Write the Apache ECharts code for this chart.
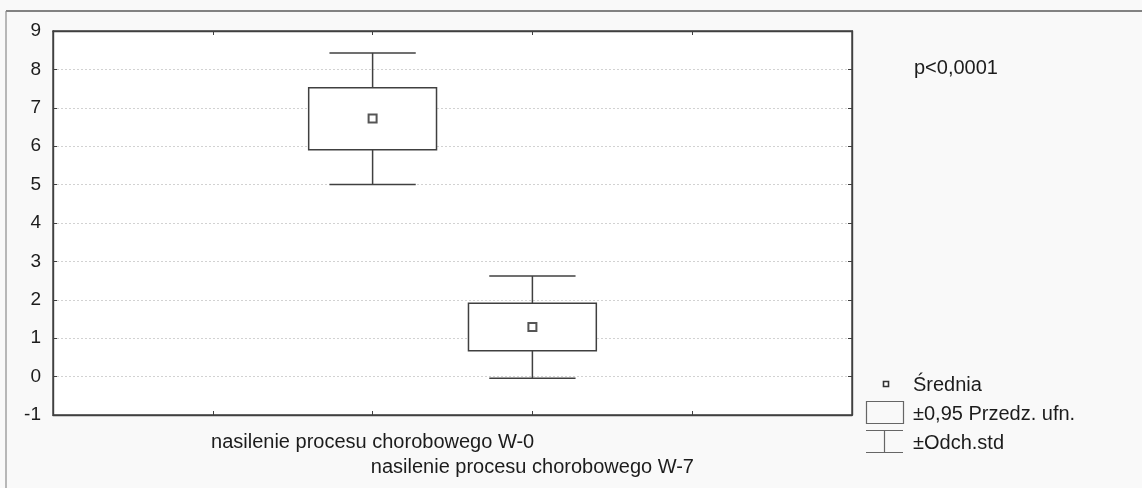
<!DOCTYPE html>
<html>
<head>
<meta charset="utf-8">
<title>nasilenie procesu chorobowego</title>
<script src="https://cdn.jsdelivr.net/npm/echarts@6/dist/echarts.min.js"></script>
<style>
  html, body { margin: 0; padding: 0; background: #f9f9f9; }
  #chart { width: 1142px; height: 488px; }
</style>
</head>
<body>
<div id="chart"></div>
<script>
// Groups and their positions along the horizontal axis
const categories = ['nasilenie procesu chorobowego W-0', 'nasilenie procesu chorobowego W-7'];
const categoryPositions = [2, 3];

// Mean, ±0.95 confidence interval and ±standard deviation for each group
const means = [6.72, 1.29];
const ciLower = [5.91, 0.67];
const ciUpper = [7.52, 1.91];
const sdLower = [5.0, -0.04];
const sdUpper = [8.43, 2.62];

// Y axis ticks
const yTicks = [-1, 0, 1, 2, 3, 4, 5, 6, 7, 8, 9];

const pValueText = 'p<0,0001';
const legendLabels = ['Średnia', '±0,95 Przedz. ufn.', '±Odch.std'];

const FONT = '"Liberation Sans", Arial, sans-serif';
const INK = '#1c1c1c';
const LINE = '#404040';
const BOX_HALF = 0.4;      // half width of the confidence box, in axis units
const CAP_HALF = 0.27;     // half width of the whisker caps, in axis units

const whiskerData = categoryPositions.map((x, i) => [x, sdLower[i], sdUpper[i]]);
const boxData = categoryPositions.map((x, i) => [x, ciLower[i], ciUpper[i]]);
const meanData = categoryPositions.map((x, i) => [x, means[i]]);

const chart = echarts.init(document.getElementById('chart'), null, { renderer: 'canvas' });

const baseXAxis = {
  type: 'value',
  min: 0,
  max: 5,
  interval: 1,
  axisLine: { show: true, onZero: false, lineStyle: { color: LINE, width: 1.4 } },
  axisTick: { show: true, inside: true, length: 4, lineStyle: { color: LINE } },
  splitLine: { show: false }
};

const baseYAxis = {
  type: 'value',
  min: yTicks[0],
  max: yTicks[yTicks.length - 1],
  interval: 1,
  axisLine: { show: true, onZero: false, lineStyle: { color: LINE, width: 1.4 } },
  axisTick: { show: true, inside: true, length: 4, lineStyle: { color: LINE } }
};

chart.setOption({
  backgroundColor: '#f9f9f9',
  animation: false,
  grid: {
    left: 53, top: 31, right: 290, bottom: 73,
    show: true, backgroundColor: '#ffffff', borderColor: LINE, borderWidth: 1.4
  },
  xAxis: [
    Object.assign({}, baseXAxis, {
      position: 'bottom',
      axisLabel: {
        show: true,
        margin: 15,
        fontFamily: FONT,
        fontSize: 20,
        color: INK,
        lineHeight: 25,
        formatter: function (v) {
          const idx = categoryPositions.indexOf(v);
          if (idx < 0) return '';
          // labels alternate between two rows
          return idx % 2 === 0 ? categories[idx] : '\n' + categories[idx];
        }
      }
    }),
    Object.assign({}, baseXAxis, { position: 'top', axisLabel: { show: false } })
  ],
  yAxis: [
    Object.assign({}, baseYAxis, {
      position: 'left',
      axisLabel: { show: true, margin: 12, fontFamily: FONT, fontSize: 19, color: INK },
      splitLine: { show: true, lineStyle: { color: '#d2d2d2', type: [2, 2], width: 1 } }
    }),
    Object.assign({}, baseYAxis, {
      position: 'right',
      axisLabel: { show: false },
      splitLine: { show: false }
    })
  ],
  series: [
    {
      // ±standard deviation whiskers
      type: 'custom',
      name: legendLabels[2],
      xAxisIndex: 0,
      yAxisIndex: 0,
      data: whiskerData,
      z: 2,
      renderItem: function (params, api) {
        const x = api.value(0);
        const lo = api.coord([x, api.value(1)]);
        const hi = api.coord([x, api.value(2)]);
        const capL = api.coord([x - CAP_HALF, api.value(1)])[0];
        const capR = api.coord([x + CAP_HALF, api.value(1)])[0];
        const style = { stroke: LINE, lineWidth: 1.5, fill: null };
        return {
          type: 'group',
          children: [
            { type: 'line', shape: { x1: lo[0], y1: lo[1], x2: hi[0], y2: hi[1] }, style: style },
            { type: 'line', shape: { x1: capL, y1: lo[1], x2: capR, y2: lo[1] }, style: style },
            { type: 'line', shape: { x1: capL, y1: hi[1], x2: capR, y2: hi[1] }, style: style }
          ]
        };
      }
    },
    {
      // ±0.95 confidence interval boxes
      type: 'custom',
      name: legendLabels[1],
      xAxisIndex: 0,
      yAxisIndex: 0,
      data: boxData,
      z: 3,
      renderItem: function (params, api) {
        const x = api.value(0);
        const a = api.coord([x - BOX_HALF, api.value(1)]);
        const b = api.coord([x + BOX_HALF, api.value(2)]);
        return {
          type: 'rect',
          shape: { x: a[0], y: b[1], width: b[0] - a[0], height: a[1] - b[1] },
          style: { fill: '#ffffff', stroke: LINE, lineWidth: 1.5 }
        };
      }
    },
    {
      // group means
      type: 'scatter',
      name: legendLabels[0],
      xAxisIndex: 0,
      yAxisIndex: 0,
      data: meanData,
      z: 4,
      symbol: 'rect',
      symbolSize: 8,
      itemStyle: { color: '#ffffff', borderColor: '#2a2a2a', borderWidth: 2 }
    }
  ],
  graphic: [
    // outer frame
    { type: 'line', silent: true, shape: { x1: 6, y1: 11, x2: 1142, y2: 11 }, style: { stroke: '#5a5a5a', lineWidth: 1.6 } },
    { type: 'line', silent: true, shape: { x1: 6, y1: 11, x2: 6, y2: 488 }, style: { stroke: '#8a8a8a', lineWidth: 1.2 } },
    // significance note
    { type: 'text', silent: true, x: 914, y: 68,
      style: { text: pValueText, font: '20px ' + FONT, fill: INK, verticalAlign: 'middle' } },
    // legend: mean
    { type: 'rect', silent: true, shape: { x: 883.5, y: 381.5, width: 5, height: 5 },
      style: { fill: '#ffffff', stroke: '#333', lineWidth: 1.6 } },
    { type: 'text', silent: true, x: 913, y: 385,
      style: { text: legendLabels[0], font: '20px ' + FONT, fill: INK, verticalAlign: 'middle' } },
    // legend: confidence box
    { type: 'rect', silent: true, shape: { x: 866.5, y: 401.5, width: 37, height: 22 },
      style: { fill: '#f9f9f9', stroke: '#666', lineWidth: 1.2 } },
    { type: 'text', silent: true, x: 913, y: 414,
      style: { text: legendLabels[1], font: '20px ' + FONT, fill: INK, verticalAlign: 'middle' } },
    // legend: whisker
    { type: 'line', silent: true, shape: { x1: 866, y1: 430.5, x2: 903, y2: 430.5 }, style: { stroke: '#666', lineWidth: 1.2 } },
    { type: 'line', silent: true, shape: { x1: 866, y1: 452.5, x2: 903, y2: 452.5 }, style: { stroke: '#666', lineWidth: 1.2 } },
    { type: 'line', silent: true, shape: { x1: 884.5, y1: 430.5, x2: 884.5, y2: 452.5 }, style: { stroke: '#666', lineWidth: 1.2 } },
    { type: 'text', silent: true, x: 913, y: 443,
      style: { text: legendLabels[2], font: '20px ' + FONT, fill: INK, verticalAlign: 'middle' } }
  ]
});
</script>
</body>
</html>
